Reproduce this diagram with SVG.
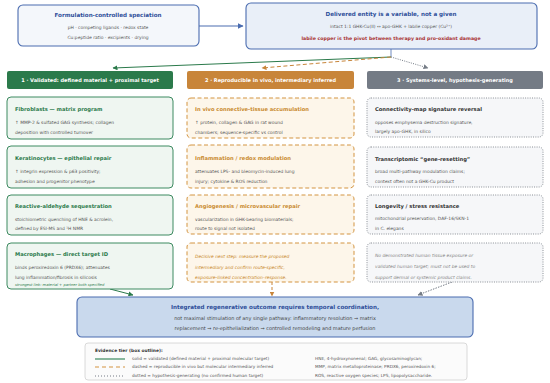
<svg xmlns="http://www.w3.org/2000/svg" width="550" height="383" viewBox="0 0 550 383">
<style>
text{font-family:"DejaVu Sans","Liberation Sans",sans-serif;fill:#555;font-size:4.45px}
.t{font-weight:bold;font-size:5.2px}
.bt{font-weight:bold;font-size:5.6px;fill:#2f4f9a}
.hd{font-weight:bold;font-size:5px;fill:#fff}
.mid{text-anchor:middle}
.g{fill:#2b7a4b}.o{fill:#c98a2e}.k{fill:#333}
.it{font-style:italic}
.lg{font-size:4.25px}
.gb{fill:#eff6f1;stroke:#3d8a60;stroke-width:1}
.ob{fill:#fdf6ea;stroke:#d39440;stroke-width:1;stroke-dasharray:4 2.5}
.kb{fill:#f6f7f9;stroke:#8a8f96;stroke-width:1;stroke-dasharray:1 1.3}
.blue{stroke:#4a6cb0;stroke-width:1.1}
</style>
<defs>
<marker id="ab" viewBox="0 0 10 10" refX="9" refY="5" markerWidth="5" markerHeight="5" orient="auto"><path d="M0,0L10,5L0,10z" fill="#4a6cb0"/></marker>
<marker id="ag" viewBox="0 0 10 10" refX="9" refY="5" markerWidth="5" markerHeight="5" orient="auto"><path d="M0,0L10,5L0,10z" fill="#2b7a4b"/></marker>
<marker id="ao" viewBox="0 0 10 10" refX="9" refY="5" markerWidth="5" markerHeight="5" orient="auto"><path d="M0,0L10,5L0,10z" fill="#c8853a"/></marker>
<marker id="ak" viewBox="0 0 10 10" refX="9" refY="5" markerWidth="5" markerHeight="5" orient="auto"><path d="M0,0L10,5L0,10z" fill="#747b85"/></marker>
</defs>
<rect width="550" height="383" fill="#fff"/>

<g id="connectors" fill="none">
<line x1="199" y1="26" x2="243" y2="26" stroke="#4a6cb0" stroke-width="1.2" marker-end="url(#ab)"/>
<line x1="391" y1="49" x2="391" y2="57" stroke="#4a6cb0" stroke-width="0.8"/>
<line x1="391" y1="57" x2="113" y2="68" stroke="#2b7a4b" stroke-width="1" marker-end="url(#ag)"/>
<line x1="391" y1="57" x2="262" y2="68" stroke="#c8853a" stroke-width="1" stroke-dasharray="4 2.5" marker-end="url(#ao)"/>
<line x1="391" y1="57" x2="428" y2="68" stroke="#747b85" stroke-width="1" stroke-dasharray="1 1.3" marker-end="url(#ak)"/>
<line x1="110" y1="289" x2="133" y2="295" stroke="#2b7a4b" stroke-width="1" marker-end="url(#ag)"/>
<line x1="272" y1="282" x2="272" y2="296" stroke="#c8853a" stroke-width="1" stroke-dasharray="3 2" marker-end="url(#ao)"/>
<line x1="452" y1="282" x2="418" y2="295" stroke="#747b85" stroke-width="1" stroke-dasharray="1.5 1.2" marker-end="url(#ak)"/>
</g>

<g id="formulation">
<rect x="18" y="5" width="181" height="41" rx="5" fill="#f4f7fb" class="blue"/>
<text x="108" y="17" class="bt mid">Formulation-controlled speciation</text>
<text x="108" y="28.5" class="mid">pH · competing ligands · redox state</text>
<text x="108" y="38.5" class="mid">Cu:peptide ratio · excipients · drying</text>
</g>

<g id="delivered">
<rect x="246" y="3" width="291" height="46" rx="5" fill="#e9eff8" class="blue"/>
<text x="391" y="16" class="bt mid">Delivered entity is a variable, not a given</text>
<text x="391" y="27.5" class="mid">intact 1:1 GHK-Cu(II) ↔ apo-GHK + labile copper (Cu²⁺)</text>
<text x="391" y="40" class="mid" style="font-weight:bold;fill:#a83232;font-size:4.7px">labile copper is the pivot between therapy and pro-oxidant damage</text>
</g>

<g id="header1"><rect x="7" y="71" width="166" height="18" rx="2" fill="#2b7a4b"/><text x="90" y="81.8" class="hd mid">1 · Validated: defined material + proximal target</text></g>
<g id="header2"><rect x="187" y="71" width="167" height="18" rx="2" fill="#c8853a"/><text x="270.5" y="81.8" class="hd mid">2 · Reproducible in vivo, intermediary inferred</text></g>
<g id="header3"><rect x="367" y="71" width="176" height="18" rx="2" fill="#747b85"/><text x="455" y="81.8" class="hd mid">3 · Systems-level, hypothesis-generating</text></g>

<g id="fibroblasts"><rect x="7" y="97" width="166" height="42" rx="4" class="gb"/>
<text x="15" y="111" class="t g">Fibroblasts — matrix program</text>
<text x="15" y="124">↑ MMP-2 &amp; sulfated GAG synthesis; collagen</text>
<text x="15" y="134">deposition with controlled turnover</text></g>
<g id="keratinocytes"><rect x="7" y="146" width="166" height="42" rx="4" class="gb"/>
<text x="15" y="159.5" class="t g">Keratinocytes — epithelial repair</text>
<text x="15" y="173">↑ integrin expression &amp; p63 positivity;</text>
<text x="15" y="183">adhesion and progenitor phenotype</text></g>
<g id="aldehyde"><rect x="7" y="195" width="166" height="40" rx="4" class="gb"/>
<text x="15" y="208" class="t g">Reactive-aldehyde sequestration</text>
<text x="15" y="220.5">stoichiometric quenching of HNE &amp; acrolein,</text>
<text x="15" y="230">defined by ESI-MS and ¹H NMR</text></g>
<g id="macrophages"><rect x="7" y="243" width="166" height="46" rx="4" class="gb"/>
<text x="15" y="255.5" class="t g">Macrophages — direct target ID</text>
<text x="15" y="268.5">binds peroxiredoxin 6 (PRDX6); attenuates</text>
<text x="15" y="278.5">lung inflammation/fibrosis in silicosis</text>
<text x="15" y="285.5" class="it g" style="font-size:3.7px">strongest link: material + partner both specified</text></g>

<g id="invivo"><rect x="187" y="98" width="167" height="40" rx="4" class="ob"/>
<text x="195" y="111" class="t o">In vivo connective-tissue accumulation</text>
<text x="195" y="124">↑ protein, collagen &amp; GAG in rat wound</text>
<text x="195" y="134">chambers; sequence-specific vs control</text></g>
<g id="inflammation"><rect x="187" y="145" width="167" height="43" rx="4" class="ob"/>
<text x="195" y="159.5" class="t o">Inflammation / redox modulation</text>
<text x="195" y="173">attenuates LPS- and bleomycin-induced lung</text>
<text x="195" y="183">injury; cytokine &amp; ROS reduction</text></g>
<g id="angiogenesis"><rect x="187" y="195" width="167" height="39" rx="4" class="ob"/>
<text x="195" y="208" class="t o">Angiogenesis / microvascular repair</text>
<text x="195" y="220.5">vascularization in GHK-bearing biomaterials;</text>
<text x="195" y="230">route to signal not isolated</text></g>
<g id="nextstep"><rect x="187" y="243" width="167" height="39" rx="4" class="ob"/>
<text x="195" y="257.5" class="it o">Decisive next step: measure the proposed</text>
<text x="195" y="268.5" class="it o">intermediary and confirm route-specific,</text>
<text x="195" y="279" class="it o">exposure-linked concentration–response.</text></g>

<g id="connectivity"><rect x="367" y="98" width="176" height="39" rx="4" class="kb"/>
<text x="375" y="111" class="t k">Connectivity-map signature reversal</text>
<text x="375" y="123.5">opposes emphysema destruction signature,</text>
<text x="375" y="133">largely apo-GHK, in silico</text></g>
<g id="transcriptomic"><rect x="367" y="147" width="176" height="40" rx="4" class="kb"/>
<text x="375" y="160.5" class="t k">Transcriptomic “gene-resetting”</text>
<text x="375" y="173">broad multi-pathway modulation claims;</text>
<text x="375" y="183">context often not a GHK-Cu product</text></g>
<g id="longevity"><rect x="367" y="195" width="176" height="39" rx="4" class="kb"/>
<text x="375" y="207.5" class="t k">Longevity / stress resistance</text>
<text x="375" y="220">mitochondrial preservation, DAF-16/SKN-1</text>
<text x="375" y="229.5">in C. elegans</text></g>
<g id="nohuman"><rect x="367" y="243" width="176" height="39" rx="4" class="kb"/>
<text x="375" y="257" class="it" style="fill:#888">No demonstrated human tissue exposure or</text>
<text x="375" y="268" class="it" style="fill:#888">validated human target; must not be used to</text>
<text x="375" y="279" class="it" style="fill:#888">support dermal or systemic product claims.</text></g>

<g id="outcome">
<rect x="77" y="297" width="396" height="40" rx="5" fill="#c9d9ed" class="blue"/>
<text x="275" y="308.5" class="bt mid">Integrated regenerative outcome requires temporal coordination,</text>
<text x="275" y="320" class="mid" style="font-size:4.95px;fill:#444">not maximal stimulation of any single pathway: inflammatory resolution → matrix</text>
<text x="275" y="330" class="mid" style="font-size:4.95px;fill:#444">replacement → re-epithelialization → controlled remodeling and mature perfusion</text>
</g>

<g id="legend">
<rect x="85" y="343" width="382" height="37" rx="3" fill="#fbfbfb" stroke="#d0d0d0" stroke-width="0.8"/>
<text x="95" y="351.5" class="t k" style="font-size:4.4px">Evidence tier (box outline):</text>
<line x1="95" y1="359" x2="125" y2="359" stroke="#3d8a60" stroke-width="1.2"/>
<line x1="95" y1="367" x2="125" y2="367" stroke="#d39440" stroke-width="1.2" stroke-dasharray="4 3"/>
<line x1="95" y1="376" x2="125" y2="376" stroke="#747b85" stroke-width="1" stroke-dasharray="1 2"/>
<text x="132" y="360.4" class="lg">solid = validated (defined material + proximal molecular target)</text>
<text x="132" y="368.4" class="lg">dashed = reproducible in vivo but molecular intermediary inferred</text>
<text x="132" y="377.4" class="lg">dotted = hypothesis-generating (no confirmed human target)</text>
<text x="315" y="360.4" class="lg">HNE, 4-hydroxynonenal; GAG, glycosaminoglycan;</text>
<text x="315" y="368.4" class="lg">MMP, matrix metalloproteinase; PRDX6, peroxiredoxin 6;</text>
<text x="315" y="377.4" class="lg">ROS, reactive oxygen species; LPS, lipopolysaccharide.</text>
</g>
</svg>
